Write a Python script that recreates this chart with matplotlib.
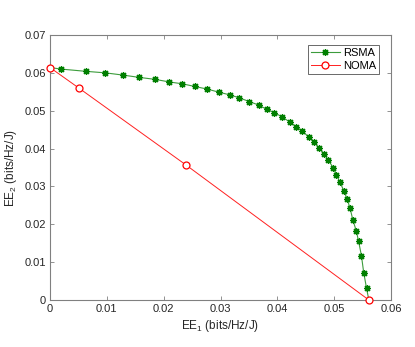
import matplotlib

matplotlib.use("Agg")
import matplotlib.pyplot as plt

plt.rcParams["font.family"] = ["Liberation Sans", "DejaVu Sans"]
plt.rcParams["mathtext.default"] = "regular"

# RSMA energy-efficiency region boundary (EE1, EE2)
rsma_ee1 = [0.0, 0.00194, 0.00633, 0.00974, 0.0129, 0.0157, 0.0184, 0.0210, 0.0233,
            0.0255, 0.0277, 0.0297, 0.0316, 0.0333, 0.0351, 0.0367, 0.0381, 0.0395,
            0.0409, 0.0422, 0.0433, 0.0444, 0.0455, 0.0465, 0.0473, 0.0482, 0.0490,
            0.0498, 0.0504, 0.0510, 0.0517, 0.0523, 0.0528, 0.0533, 0.0539, 0.0543,
            0.0548, 0.0552, 0.0557, 0.0561]
rsma_ee2 = [0.0614, 0.0610, 0.0604, 0.0600, 0.0594, 0.0588, 0.0583, 0.0576, 0.0571,
            0.0564, 0.0557, 0.0549, 0.0542, 0.0534, 0.0524, 0.0515, 0.0504, 0.0495,
            0.0483, 0.0470, 0.0458, 0.0446, 0.0431, 0.0417, 0.0402, 0.0386, 0.0369,
            0.0350, 0.0331, 0.0311, 0.0289, 0.0266, 0.0242, 0.0211, 0.0182, 0.0155,
            0.0117, 0.0072, 0.0031, 0.0]

# NOMA boundary
noma_ee1 = [0.0, 0.00516, 0.0239, 0.0561]
noma_ee2 = [0.0614, 0.0559, 0.0357, 0.0]

fig = plt.figure(figsize=(4.15, 3.47), dpi=100)
ax = fig.add_axes([50 / 415, 1 - 300 / 347, 341 / 415, 265 / 347])

ax.plot(rsma_ee1, rsma_ee2, color="#3c9c3c", linewidth=0.8, marker=(8, 2, 0),
        markersize=5, markerfacecolor="#007f00", markeredgecolor="#007f00",
        markeredgewidth=0.9, label="RSMA")
ax.plot(noma_ee1, noma_ee2, color="#ff2020", linewidth=0.7, marker="o",
        markersize=5, markerfacecolor="white", markeredgecolor="#ff0000",
        markeredgewidth=0.9, label="NOMA", clip_on=False, zorder=3)

ax.set_xlim(0, 0.06)
ax.set_ylim(0, 0.07)
ax.set_xticks([0, 0.01, 0.02, 0.03, 0.04, 0.05, 0.06])
ax.set_xticklabels(["0", "0.01", "0.02", "0.03", "0.04", "0.05", "0.06"])
ax.set_yticks([0, 0.01, 0.02, 0.03, 0.04, 0.05, 0.06, 0.07])
ax.set_yticklabels(["0", "0.01", "0.02", "0.03", "0.04", "0.05", "0.06", "0.07"])

for spine in ax.spines.values():
    spine.set_color("#808080")
    spine.set_linewidth(0.8)
ax.tick_params(direction="in", top=True, right=True, length=3, width=0.6,
               color="#808080", labelsize=8, labelcolor="#262626", pad=3)

ax.set_xlabel("EE$_1$ (bits/Hz/J)", fontsize=8.5, color="#262626", labelpad=3)
ax.set_ylabel("EE$_2$ (bits/Hz/J)", fontsize=8.5, color="#262626", labelpad=4)

leg = ax.legend(loc="upper right", bbox_to_anchor=(0.965, 0.962), fontsize=8,
                frameon=True, fancybox=False, edgecolor="#262626",
                handlelength=2.6, borderpad=0.25, labelspacing=0.3,
                handletextpad=0.3, borderaxespad=0.0)
leg.get_frame().set_linewidth(0.6)

fig.savefig("out.png", dpi=100)
plt.close(fig)
